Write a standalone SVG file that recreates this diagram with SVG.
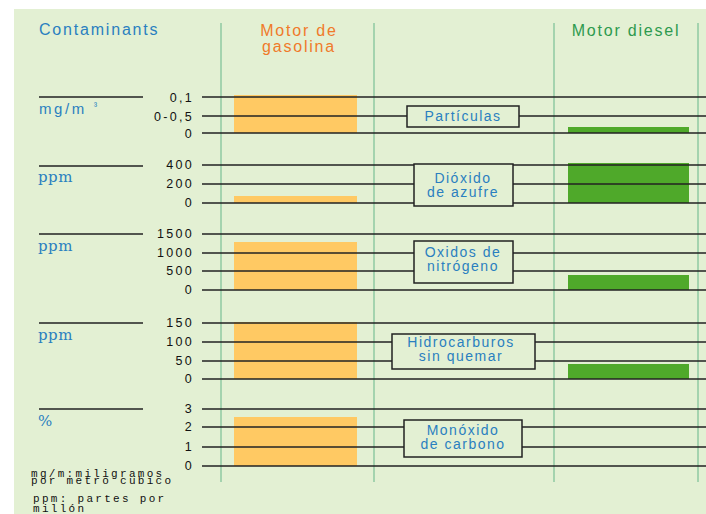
<svg xmlns="http://www.w3.org/2000/svg" width="706" height="514" viewBox="0 0 706 514">
<style>
.bg{fill:#e3f0d3}
.vl{stroke:#8fcaa2;stroke-width:1.5}
.hl{stroke:#222;stroke-width:1.5}
.gas{fill:#ffc963}
.die{fill:#4fa92a}
.box{fill:#e3f0d3;stroke:#222;stroke-width:1.5}
.hd{font-family:"Liberation Sans",Arial,sans-serif;font-size:16px;letter-spacing:1.8px}
.ax{font-family:"Liberation Sans",Arial,sans-serif;font-size:12.5px;letter-spacing:2.3px;fill:#111;text-anchor:end}
.unit{font-family:"DejaVu Serif","Liberation Serif",serif;font-size:15px;letter-spacing:0.5px;fill:#2a7fc0}
.lbl{font-family:"Liberation Sans",Arial,sans-serif;font-size:14px;letter-spacing:1.5px;fill:#2a7fc0;text-anchor:middle}
.note{font-family:"Liberation Mono","Courier New",monospace;font-size:11px;letter-spacing:2.3px;fill:#111}
</style>
<rect class="bg" x="14" y="9" width="692" height="505"/>
<g id="grid">
<line class="vl" x1="221" y1="23" x2="221" y2="482"/>
<line class="vl" x1="374" y1="23" x2="374" y2="482"/>
<line class="vl" x1="554" y1="23" x2="554" y2="482"/>
<line class="vl" x1="698" y1="23" x2="698" y2="482"/>
</g>
<g id="headers">
<text class="hd" x="39" y="35" fill="#2a7fc0" letter-spacing="2.6">Contaminants</text>
<text class="hd" x="299" y="36" fill="#f07a2a" text-anchor="middle">Motor de</text>
<text class="hd" x="299" y="52" fill="#f07a2a" text-anchor="middle">gasolina</text>
<text class="hd" x="626" y="36" fill="#2e9a4e" text-anchor="middle" letter-spacing="2.2">Motor diesel</text>
</g>
<g id="bars">
<rect class="gas" x="234" y="95" width="123" height="38"/>
<rect class="gas" x="234" y="196" width="123" height="7"/>
<rect class="gas" x="234" y="242" width="123" height="48"/>
<rect class="gas" x="234" y="322" width="123" height="57"/>
<rect class="gas" x="234" y="417" width="123" height="49"/>
<rect class="die" x="568" y="127" width="121" height="6"/>
<rect class="die" x="568" y="163" width="121" height="40"/>
<rect class="die" x="568" y="275" width="121" height="15"/>
<rect class="die" x="568" y="364" width="121" height="15"/>
</g>
<g id="connectors">
<line class="hl" x1="39" y1="97" x2="143" y2="97"/>
<line class="hl" x1="39" y1="166" x2="143" y2="166"/>
<line class="hl" x1="39" y1="234" x2="143" y2="234"/>
<line class="hl" x1="39" y1="323" x2="143" y2="323"/>
<line class="hl" x1="39" y1="409" x2="143" y2="409"/>
<line class="hl" x1="202" y1="97" x2="706" y2="97"/>
<line class="hl" x1="202" y1="116" x2="706" y2="116"/>
<line class="hl" x1="202" y1="133" x2="706" y2="133"/>
<line class="hl" x1="202" y1="165" x2="706" y2="165"/>
<line class="hl" x1="202" y1="184" x2="706" y2="184"/>
<line class="hl" x1="202" y1="203" x2="706" y2="203"/>
<line class="hl" x1="202" y1="234" x2="706" y2="234"/>
<line class="hl" x1="202" y1="253" x2="706" y2="253"/>
<line class="hl" x1="202" y1="271" x2="706" y2="271"/>
<line class="hl" x1="202" y1="290" x2="706" y2="290"/>
<line class="hl" x1="202" y1="323" x2="706" y2="323"/>
<line class="hl" x1="202" y1="342" x2="706" y2="342"/>
<line class="hl" x1="202" y1="361" x2="706" y2="361"/>
<line class="hl" x1="202" y1="379" x2="706" y2="379"/>
<line class="hl" x1="202" y1="409" x2="706" y2="409"/>
<line class="hl" x1="202" y1="427" x2="706" y2="427"/>
<line class="hl" x1="202" y1="447" x2="706" y2="447"/>
<line class="hl" x1="202" y1="466" x2="706" y2="466"/>
</g>
<g id="axes">
<text class="ax" x="194" y="102">0,1</text>
<text class="ax" x="194" y="121">0-0,5</text>
<text class="ax" x="194" y="138">0</text>
<text class="ax" x="194" y="169">400</text>
<text class="ax" x="194" y="188">200</text>
<text class="ax" x="194" y="207">0</text>
<text class="ax" x="194" y="238">1500</text>
<text class="ax" x="194" y="257">1000</text>
<text class="ax" x="194" y="275">500</text>
<text class="ax" x="194" y="294">0</text>
<text class="ax" x="194" y="327">150</text>
<text class="ax" x="194" y="346">100</text>
<text class="ax" x="194" y="365">50</text>
<text class="ax" x="194" y="383">0</text>
<text class="ax" x="194" y="413">3</text>
<text class="ax" x="194" y="431">2</text>
<text class="ax" x="194" y="451">1</text>
<text class="ax" x="194" y="470">0</text>
</g>
<g id="units">
<text x="39" y="114" font-family="Liberation Sans,Arial,sans-serif" font-size="15" letter-spacing="2.6" fill="#2a7fc0">mg/m <tspan font-size="10" dy="-5">³</tspan></text>
<text class="unit" x="38" y="182">ppm</text>
<text class="unit" x="38" y="251">ppm</text>
<text class="unit" x="38" y="340">ppm</text>
<text class="unit" x="38" y="426" font-size="12">%</text>
</g>
<g id="particulas">
<rect class="box" x="407" y="106" width="112" height="21"/>
<text class="lbl" x="463" y="121" letter-spacing="2.7">Partículas</text>
</g>
<g id="dioxido">
<rect class="box" x="414" y="164" width="99" height="42"/>
<text class="lbl" x="463" y="183">Dióxido</text>
<text class="lbl" x="463" y="197">de azufre</text>
</g>
<g id="oxidos">
<rect class="box" x="414" y="241" width="99" height="42"/>
<text class="lbl" x="463" y="257">Oxidos de</text>
<text class="lbl" x="463" y="271">nitrógeno</text>
</g>
<g id="hidrocarburos">
<rect class="box" x="392" y="334" width="143" height="35"/>
<text class="lbl" x="461" y="347">Hidrocarburos</text>
<text class="lbl" x="461" y="361">sin quemar</text>
</g>
<g id="monoxido">
<rect class="box" x="404" y="420" width="118" height="37"/>
<text class="lbl" x="463" y="435">Monóxido</text>
<text class="lbl" x="463" y="449">de carbono</text>
</g>
<g id="notes">
<text class="note" x="31" y="477">mg/m:miligramos</text>
<text class="note" x="31" y="484">por metro cubico</text>
<text class="note" x="33" y="502">ppm: partes por</text>
<text class="note" x="33" y="512">millón</text>
</g>
</svg>
